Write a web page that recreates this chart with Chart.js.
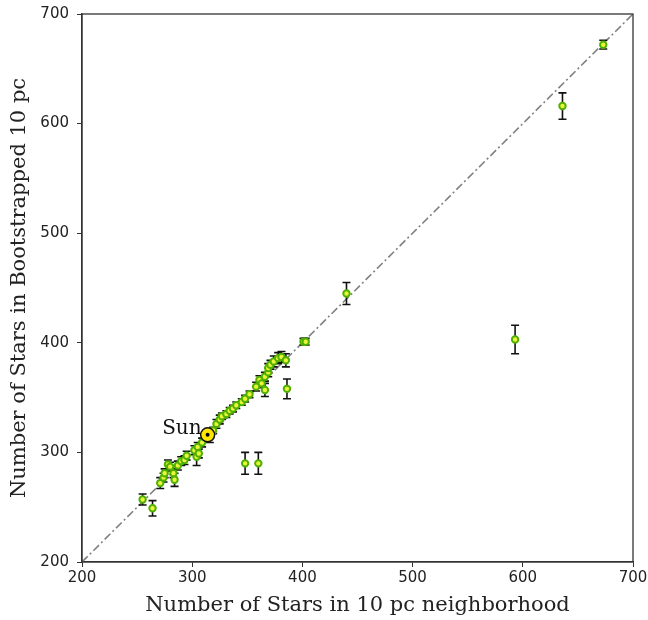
<!DOCTYPE html>
<html>
<head>
<meta charset="utf-8">
<style>
  html, body { margin: 0; padding: 0; background: #fff; }
  #wrap { width: 648px; height: 620px; }
</style>
</head>
<body>
<div id="wrap">
  <canvas id="myChart" width="648" height="620"></canvas>
</div>
<script src="https://cdn.jsdelivr.net/npm/chart.js"></script>
<script>
  // stars counted in the 10 pc neighborhood vs bootstrapped estimate
  const neighborhood = [
    673, 636, 440, 593, 401, 403, 386, 348, 360, 255, 264,
    271, 274, 275, 278, 280, 283, 284, 287, 290, 293, 295, 302, 304, 306, 305, 309,
    316, 319, 322, 325, 327, 331, 334, 337, 340, 345, 348, 352, 358, 361, 363, 366,
    366, 369, 369, 371, 374, 378, 381, 385,
  ];
  const bootstrapped = [
    672, 616, 445, 403, 401, 401, 358, 290, 290, 257, 249,
    272, 277, 281, 289, 287, 281, 275, 288, 292, 293, 297, 302, 296, 299, 305, 309,
    314, 320, 326, 330, 333, 335, 338, 340, 343, 346, 349, 353, 360, 366, 363, 369,
    357, 373, 377, 380, 383, 386, 387, 384,
  ];
  const errors = [
    4, 12, 10, 13, 3, 3, 9, 10, 10, 5, 7,
    5, 4, 4, 4, 4, 4, 6, 4, 4, 4, 4, 4, 8, 4, 4, 4,
    5, 3, 4, 4, 3, 3, 3, 3, 3, 3, 3, 3, 4, 4, 4, 4,
    6, 4, 4, 4, 5, 5, 5, 6,
  ];
  const sun = { x: 314, y: 316 };
  const axisTicks = [200, 300, 400, 500, 600, 700];

  const points = neighborhood.map((x, i) => ({ x, y: bootstrapped[i] }));

  // matplotlib-style error bars, drawn just before the points
  const errorBars = {
    id: "errorBars",
    beforeDatasetDraw(chart, args) {
      if (args.index !== 1) return;
      const { ctx, scales: { x, y } } = chart;
      ctx.save();
      ctx.strokeStyle = "#111";
      ctx.lineWidth = 1.6;
      points.forEach((p, i) => {
        const px = x.getPixelForValue(p.x);
        const top = y.getPixelForValue(p.y + errors[i]);
        const bot = y.getPixelForValue(p.y - errors[i]);
        ctx.beginPath();
        ctx.moveTo(px, top); ctx.lineTo(px, bot);
        ctx.moveTo(px - 4, top); ctx.lineTo(px + 4, top);
        ctx.moveTo(px - 4, bot); ctx.lineTo(px + 4, bot);
        ctx.stroke();
      });
      ctx.restore();
    },
  };

  // closed frame plus the Sun label
  const frame = {
    id: "frame",
    afterDraw(chart) {
      const { ctx, chartArea: a, scales: { x, y } } = chart;
      ctx.save();
      ctx.strokeStyle = "#333";
      ctx.lineWidth = 1.3;
      ctx.strokeRect(a.left, a.top, a.right - a.left, a.bottom - a.top);
      const sx = x.getPixelForValue(sun.x);
      const sy = y.getPixelForValue(sun.y);
      ctx.beginPath();
      ctx.arc(sx, sy, 2, 0, Math.PI * 2);
      ctx.fillStyle = "#000";
      ctx.fill();
      ctx.font = "20px 'DejaVu Serif'";
      ctx.fillStyle = "#111";
      ctx.textAlign = "right";
      ctx.textBaseline = "alphabetic";
      ctx.fillText("Sun", sx - 6, sy - 1);
      ctx.restore();
    },
  };

  // fixed axis sizes, and no extra room for labels that stick out
  function fitX(s) {
    s.height = 58;
    s.paddingLeft = 0; s.paddingRight = 0;
  }
  function fitY(s) {
    s.width = 82;
    s.paddingTop = 0; s.paddingBottom = 0;
  }

  new Chart(document.getElementById("myChart"), {
    type: "scatter",
    data: {
      datasets: [
        {
          type: "line",
          data: [{ x: 200, y: 200 }, { x: 700, y: 700 }],
          borderColor: "#808080",
          borderWidth: 1.6,
          borderDash: [8, 3, 2, 3],
          pointRadius: 0,
          order: 3,
        },
        {
          data: points,
          backgroundColor: "#e8f53a",
          borderColor: "#4fb000",
          borderWidth: 2,
          pointRadius: 3.2,
          order: 2,
        },
        {
          data: [sun],
          backgroundColor: "#ffe600",
          borderColor: "#111",
          borderWidth: 1.5,
          pointRadius: 7,
          order: 1,
        },
      ],
    },
    options: {
      responsive: false,
      animation: false,
      layout: { padding: { top: 14, right: 15, left: 0, bottom: 0 } },
      plugins: { legend: { display: false }, tooltip: { enabled: false } },
      scales: {
        x: {
          type: "linear",
          min: 200,
          max: 700,
          afterBuildTicks: (s) => { s.ticks = axisTicks.map((v) => ({ value: v })); },
          afterFit: fitX,
          grid: { drawOnChartArea: false, tickLength: 5, color: "#333" },
          border: { color: "#333", width: 1.3 },
          ticks: { color: "#222", padding: 2, font: { family: "DejaVu Sans", size: 15 } },
          title: {
            display: true,
            text: "Number of Stars in 10 pc neighborhood",
            color: "#222",
            padding: { top: 2, bottom: 2 },
            font: { family: "DejaVu Serif", size: 21 },
          },
        },
        y: {
          type: "linear",
          min: 200,
          max: 700,
          afterBuildTicks: (s) => { s.ticks = axisTicks.map((v) => ({ value: v })); },
          afterFit: fitY,
          grid: { drawOnChartArea: false, tickLength: 5, color: "#333" },
          border: { color: "#333", width: 1.3 },
          ticks: { color: "#222", padding: 8, font: { family: "DejaVu Sans", size: 15 } },
          title: {
            display: true,
            text: "Number of Stars in Bootstrapped 10 pc",
            color: "#222",
            padding: { top: 7, bottom: 0 },
            font: { family: "DejaVu Serif", size: 21 },
          },
        },
      },
    },
    plugins: [errorBars, frame],
  });
</script>
</body>
</html>
